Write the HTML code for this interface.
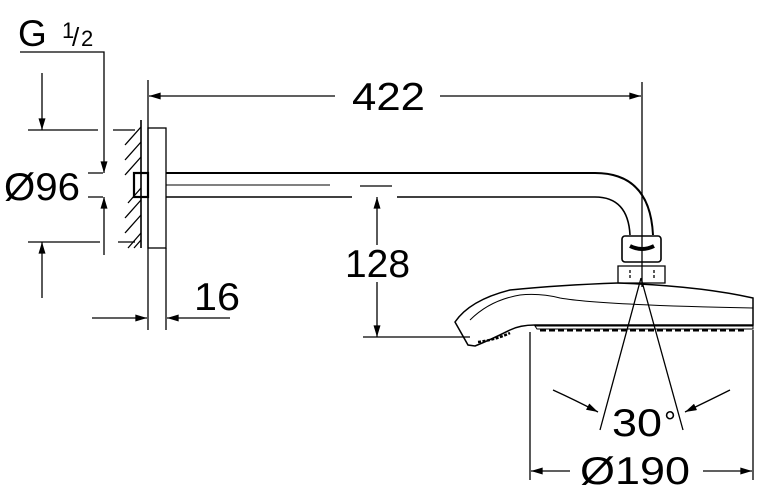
<!DOCTYPE html>
<html><head><meta charset="utf-8"><style>html,body{margin:0;padding:0;background:#fff}svg{display:block}</style></head>
<body>
<svg width="760" height="496" viewBox="0 0 760 496" xmlns="http://www.w3.org/2000/svg" font-family="Liberation Sans, sans-serif" fill="none" stroke="#000" stroke-width="1.3">
<defs>
<marker id="a" viewBox="0 0 10 6" refX="10" refY="3" markerWidth="18" markerHeight="7" markerUnits="userSpaceOnUse" orient="auto"><path d="M0,0L10,3L0,6z" fill="#000" stroke="none"/></marker>
</defs>
<!-- G 1/2 -->
<text x="18" y="46" font-size="37" fill="#000" stroke="none">G</text>
<text x="62" y="38" font-size="22" fill="#000" stroke="none">1</text>
<text x="72" y="46" font-size="26" fill="#000" stroke="none">/</text>
<text x="81" y="46" font-size="22" fill="#000" stroke="none">2</text>
<path d="M20,52H104V150"/>
<line x1="104" y1="150" x2="104" y2="173" marker-end="url(#a)"/>
<!-- Ø96 -->
<line x1="42" y1="73" x2="42" y2="130" marker-end="url(#a)"/>
<path d="M28,130H98M113,130H135"/>
<path d="M28,242H100M118,242H135"/>
<line x1="42" y1="298" x2="42" y2="242" marker-end="url(#a)"/>
<path d="M88,173H103M88,197H103"/>
<line x1="104" y1="255" x2="104" y2="197" marker-end="url(#a)"/>
<text x="4" y="200" font-size="39" fill="#000" stroke="none" textLength="76" lengthAdjust="spacingAndGlyphs">Ø96</text>
<!-- wall -->
<line x1="141" y1="120" x2="141" y2="248" stroke-width="1.6"/>
<path d="M125,145L141,127M125,160L141,142M125,175L141,157M128,203L141,188M125,218L141,200M125,233L141,215M128,248L141,233M134,248L141,240"/>
<rect x="134" y="173" width="14" height="24" stroke-width="2.2"/>
<rect x="148" y="128" width="18" height="120"/>
<line x1="148" y1="80" x2="148" y2="330"/>
<line x1="166" y1="248" x2="166" y2="330"/>
<!-- 422 -->
<line x1="335" y1="96" x2="149" y2="96" marker-end="url(#a)"/>
<line x1="440" y1="96" x2="641" y2="96" marker-end="url(#a)"/>
<text x="352" y="110" font-size="39" fill="#000" stroke="none" textLength="73" lengthAdjust="spacingAndGlyphs">422</text>
<line x1="642" y1="82" x2="642" y2="287"/>
<!-- arm -->
<path d="M166,173H595Q650,173 653,235" stroke-width="2"/>
<path d="M166,197H352M397,197H595Q628,197 630,235" stroke-width="1.6"/>
<path d="M166,185H330" stroke-width="1"/>
<path d="M360,186H392"/>
<!-- nut -->
<rect x="622" y="236" width="39" height="26" rx="3" stroke-width="1.6"/>
<path d="M630,246Q642,252 654,246" stroke-width="4"/>
<path d="M618,266H665V283H618Z"/>
<path d="M630,270V280M654,270V280" stroke-dasharray="3,2"/>
<!-- head -->
<path d="M618,283Q700,286 753,298V325H535" stroke-width="1.5"/>
<path d="M535,325Q520,325 510,330Q490,340 475,346L468,345L455,322Q470,300 510,290Q560,285 618,283" stroke-width="1.5"/>
<path d="M470,320Q490,300 520,295Q540,293 560,298Q600,305 753,308" stroke-width="1"/>
<path d="M535,326H753V329H537Z" stroke-width="1"/>
<path d="M540,330H745" stroke-width="3" stroke-dasharray="6,3"/>
<path d="M478,342Q495,340 510,333" stroke-width="2.5" stroke-dasharray="3,1.5"/>
<!-- 128 -->
<line x1="377" y1="245" x2="377" y2="197" marker-end="url(#a)"/>
<line x1="377" y1="282" x2="377" y2="337" marker-end="url(#a)"/>
<text x="345" y="277" font-size="39" fill="#000" stroke="none" textLength="65" lengthAdjust="spacingAndGlyphs">128</text>
<path d="M363,337H470"/>
<!-- 16 -->
<line x1="92" y1="318" x2="147" y2="318" marker-end="url(#a)"/>
<line x1="230" y1="318" x2="167" y2="318" marker-end="url(#a)"/>
<text x="194" y="310" font-size="39" fill="#000" stroke="none" textLength="46" lengthAdjust="spacingAndGlyphs">16</text>
<!-- 30° -->
<path d="M641,278L600,430M641,278L683,430"/>
<path d="M553,390Q575,400 598,412" marker-end="url(#a)"/>
<path d="M730,390Q710,400 685,412" marker-end="url(#a)"/>
<text x="612" y="436" font-size="39" fill="#000" stroke="none" textLength="50" lengthAdjust="spacingAndGlyphs">30</text>
<text x="664" y="432" font-size="30" fill="#000" stroke="none">°</text>
<!-- Ø190 -->
<path d="M530,332V480M753,330V480"/>
<line x1="570" y1="471" x2="531" y2="471" marker-end="url(#a)"/>
<line x1="703" y1="471" x2="752" y2="471" marker-end="url(#a)"/>
<text x="580" y="484" font-size="39" fill="#000" stroke="none" textLength="110" lengthAdjust="spacingAndGlyphs">Ø190</text>
</svg>
</body></html>
